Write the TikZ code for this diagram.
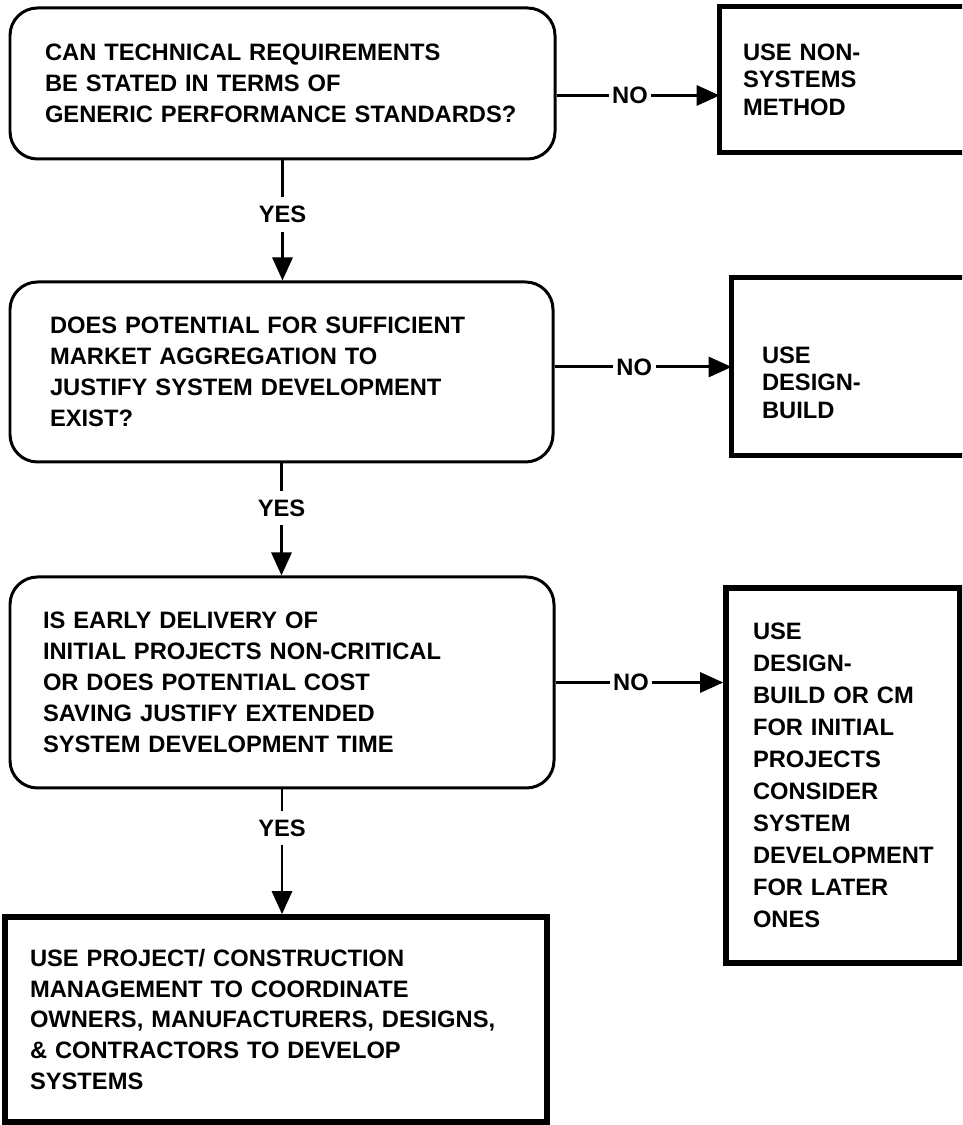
\documentclass[tikz,border=0pt]{standalone}
\usepackage{fontspec}
\setmainfont{Liberation Sans}
\usetikzlibrary{arrows.meta}

\newcommand*{\picW}{19.24}
\newcommand*{\picH}{22.5}

\begin{document}
\begin{tikzpicture}[
    txt/.style={font=\fontsize{13.5}{17.6}\selectfont\bfseries, align=left},
    question/.style={txt, draw, line width=1.7pt, rounded corners=0.55cm, inner xsep=0pt},
    answer/.style={txt, draw, line width=3.2pt, inner xsep=0pt},
    cutanswer/.style={txt, inner xsep=0pt},
    cutframe/.style={line width=3.2pt},
    flow/.style={line width=1.7pt, -{Triangle[length=0.46cm,width=0.4cm]}},
    lbl/.style={txt, fill=white, inner xsep=2pt, inner ysep=5pt}
]
    \useasboundingbox (0,0) rectangle (\picW,\picH);
    \clip (0,0) rectangle (\picW,\picH);

    % questions
    \node[question, minimum width=10.9cm, minimum height=3.02cm, text width=9.5cm] (qone) at (5.65,20.83)
        {CAN TECHNICAL REQUIREMENTS\\BE STATED IN TERMS OF\\GENERIC PERFORMANCE STANDARDS?};
    \node[question, minimum width=10.86cm, minimum height=3.6cm, text width=9.26cm] (qtwo) at (5.63,15.06)
        {DOES POTENTIAL FOR SUFFICIENT\\MARKET AGGREGATION TO\\JUSTIFY SYSTEM DEVELOPMENT\\EXIST?};
    \node[question, minimum width=10.88cm, minimum height=4.22cm, text width=9.56cm] (qthree) at (5.64,8.85)
        {IS EARLY DELIVERY OF\\INITIAL PROJECTS NON-CRITICAL\\OR DOES POTENTIAL COST\\SAVING JUSTIFY EXTENDED\\SYSTEM DEVELOPMENT TIME};

    % answers
    \node[answer, minimum width=10.84cm, minimum height=4.1cm, text width=9.84cm] (afour) at (5.52,2.11)
        {USE PROJECT/ CONSTRUCTION\\MANAGEMENT TO COORDINATE\\OWNERS, MANUFACTURERS, DESIGNS,\\\& CONTRACTORS TO DEVELOP\\SYSTEMS};
    \node[cutanswer, font=\fontsize{13.5}{15.6}\selectfont\bfseries, minimum width=7cm, minimum height=2.9cm, text width=6.08cm] (rone) at (17.9,20.91)
        {USE NON-\\SYSTEMS\\METHOD};
    \node[cutanswer, font=\fontsize{13.5}{15.6}\selectfont\bfseries, minimum width=6.76cm, minimum height=3.54cm, text width=5.56cm, text depth=0.45cm] (rtwo) at (18.02,15.17)
        {USE\\DESIGN-\\BUILD};
    \node[answer, font=\fontsize{13.5}{18.2}\selectfont\bfseries, minimum width=4.68cm, minimum height=7.5cm, text width=3.6cm] (rthree) at (16.86,6.99)
        {USE\\DESIGN-\\BUILD OR CM\\FOR INITIAL\\PROJECTS\\CONSIDER\\SYSTEM\\DEVELOPMENT\\FOR LATER\\ONES};
    % these two run off the page
    \draw[cutframe] (rone.north east) -- (rone.north west) -- (rone.south west) -- (rone.south east);
    \draw[cutframe] (rtwo.north east) -- (rtwo.north west) -- (rtwo.south west) -- (rtwo.south east);

    % yes
    \draw[flow] (qone.south) -- node[lbl, pos=0.45] {YES} (qone.south |- qtwo.north);
    \draw[flow] (qtwo.south) -- node[lbl, pos=0.4] {YES} (qtwo.south |- qthree.north);
    \draw[flow] (qthree.south) -- node[lbl, pos=0.31] {YES} (qthree.south |- afour.north);

    % no
    \coordinate (noone) at ([yshift=-0.24cm]qone.east);
    \coordinate (notwo) at ([yshift=0.1cm]qtwo.east);
    \draw[flow] (noone) -- node[lbl, pos=0.45] {NO} (noone -| rone.west);
    \draw[flow] (notwo) -- node[lbl, pos=0.45] {NO} (notwo -| rtwo.west);
    \draw[flow] (qthree.east) -- node[lbl, pos=0.45] {NO} (qthree.east -| rthree.west);

\end{tikzpicture}
\end{document}
